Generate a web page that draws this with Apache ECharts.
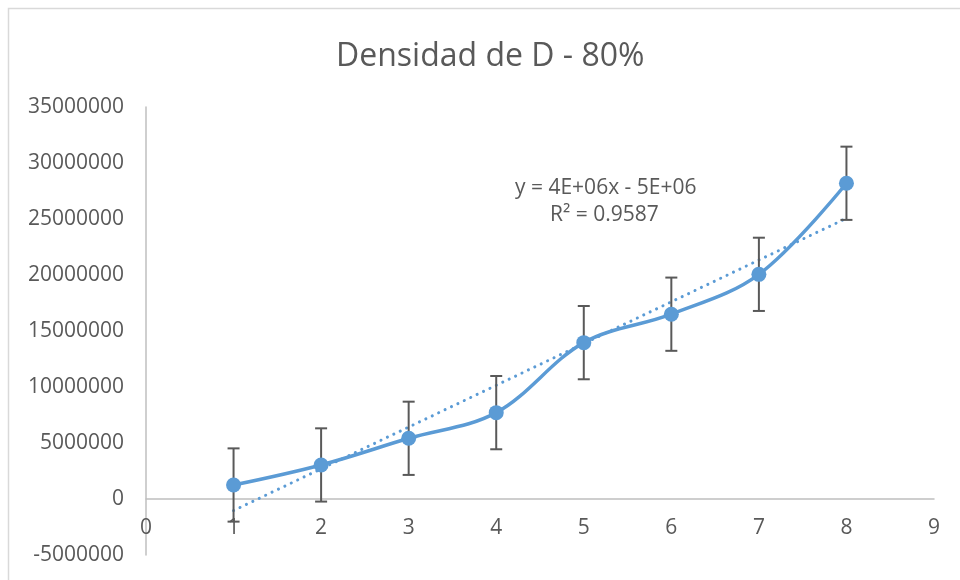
<!DOCTYPE html>
<html><head><meta charset="utf-8">
<script src="https://cdn.jsdelivr.net/npm/echarts@6/dist/echarts.min.js"></script>
<style>html,body{margin:0;padding:0;background:#fff}#c{width:960px;height:580px}</style>
</head><body><div id="c"></div>
<script>
const titleText = 'Densidad de D - 80%';
const xValues = [1, 2, 3, 4, 5, 6, 7, 8];
const yValues = [1250000, 3040000, 5420000, 7710000, 13960000, 16500000, 20060000, 28190000];
const errValues = [3270000, 3270000, 3270000, 3270000, 3270000, 3270000, 3270000, 3270000];
const eqText = 'y = 4E+06x - 5E+06';
const r2Text = 'R² = 0.9587';

// linear regression trendline
const n = xValues.length;
const mx = xValues.reduce((a,b)=>a+b,0)/n;
const my = yValues.reduce((a,b)=>a+b,0)/n;
let sxy=0, sxx=0;
for (let i=0;i<n;i++){ sxy += (xValues[i]-mx)*(yValues[i]-my); sxx += (xValues[i]-mx)**2; }
const slope = sxy/sxx, icpt = my - slope*mx;
const trend = [[xValues[0], icpt+slope*xValues[0]], [xValues[n-1], icpt+slope*xValues[n-1]]];

const pts = xValues.map((x,i)=>[x, yValues[i]]);
const errData = xValues.map((x,i)=>[x, yValues[i]-errValues[i], yValues[i]+errValues[i]]);

const chart = echarts.init(document.getElementById('c'));
const txt = '#595959';
chart.setOption({
  animation: false,
  title: { text: titleText, left: 331, top: 36, textStyle: { fontFamily: 'Open Sans', fontWeight: 'normal', fontSize: 32, color: txt } },
  grid: { left: 146, right: 26, top: 107, bottom: 25, outerBoundsMode: 'none', containLabel: false },
  xAxis: {
    type: 'value', min: 0, max: 9, interval: 1,
    axisLine: { onZero: true, lineStyle: { color: '#BFBFBF', width: 1.5 } },
    axisTick: { show: false }, splitLine: { show: false },
    axisLabel: { color: txt, fontFamily: 'Open Sans', fontSize: 21, margin: -37, formatter: v => String(v) }
  },
  yAxis: {
    type: 'value', min: -5000000, max: 35000000, interval: 5000000,
    axisLine: { show: true, lineStyle: { color: '#BFBFBF', width: 1.5 } },
    axisTick: { show: false }, splitLine: { show: false },
    axisLabel: { color: txt, fontFamily: 'Open Sans', fontSize: 21, margin: 22, formatter: v => String(v) }
  },
  graphic: [
    { type: 'rect', shape: { x: 8.5, y: 8.5, width: 1000, height: 1000 }, style: { fill: 'none', stroke: '#D9D9D9', lineWidth: 1.5 }, silent: true },
    { type: 'text', left: 515, top: 178, style: { text: eqText, fill: txt, font: '21px "Open Sans"' } },
    { type: 'text', left: 550, top: 205, style: { text: r2Text, fill: txt, font: '21px "Open Sans"' } }
  ],
  series: [
    {
      type: 'line', data: trend, showSymbol: false, symbol: 'none', z: 2,
      lineStyle: { color: '#5B9BD5', width: 3, type: [0.1, 7], cap: 'round' }
    },
    {
      type: 'custom', z: 3, data: errData,
      renderItem: function (params, api) {
        const x = api.value(0);
        const lo = api.coord([x, api.value(1)]);
        const hi = api.coord([x, api.value(2)]);
        const w = 6;
        const st = { stroke: '#595959', lineWidth: 2 };
        return { type: 'group', children: [
          { type: 'line', shape: { x1: lo[0], y1: lo[1], x2: hi[0], y2: hi[1] }, style: st },
          { type: 'line', shape: { x1: lo[0]-w, y1: lo[1], x2: lo[0]+w, y2: lo[1] }, style: st },
          { type: 'line', shape: { x1: hi[0]-w, y1: hi[1], x2: hi[0]+w, y2: hi[1] }, style: st }
        ]};
      }
    },
    {
      type: 'line', data: pts, smooth: 0.35, z: 4,
      symbol: 'circle', symbolSize: 15,
      lineStyle: { color: '#5B9BD5', width: 3.5 },
      itemStyle: { color: '#5B9BD5' }
    }
  ]
});
</script></body></html>
